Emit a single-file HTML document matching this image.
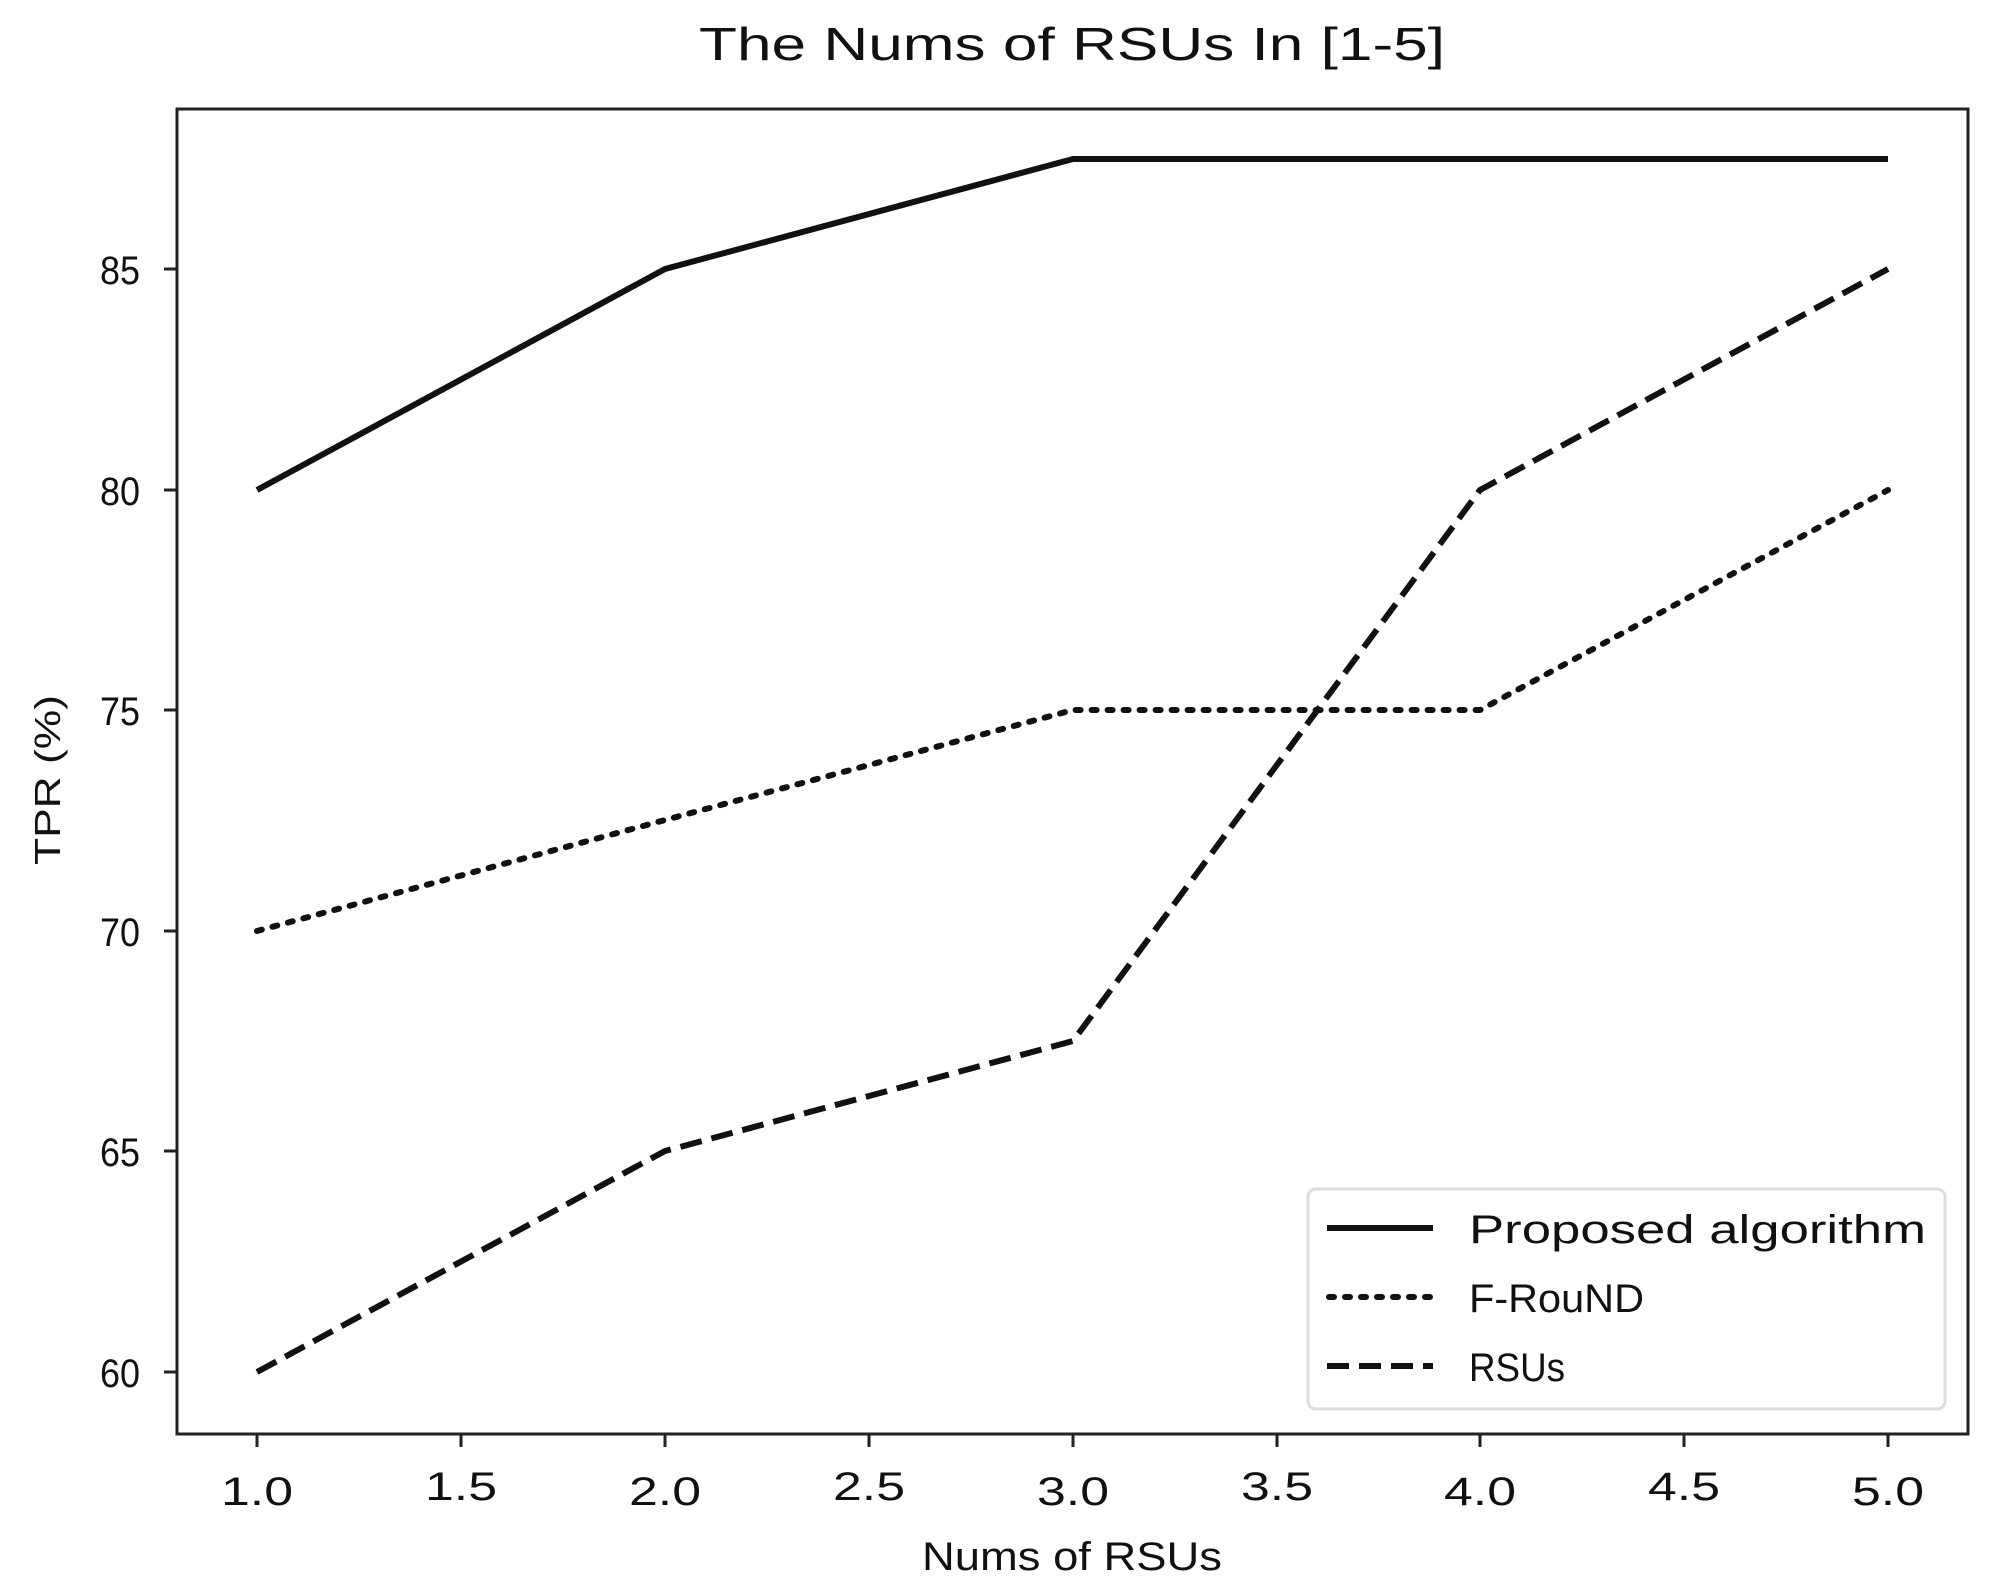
<!DOCTYPE html>
<html><head><meta charset="utf-8"><style>html,body{margin:0;padding:0;background:#fff}svg{display:block}</style></head>
<body>
<svg width="1997" height="1586" viewBox="0 0 1997 1586" xmlns="http://www.w3.org/2000/svg" font-family="'Liberation Sans','Noto Sans CJK SC',sans-serif" fill="#111">
<rect width="1997" height="1586" fill="#fff"/>
<text x="1072" y="60" font-size="46" text-anchor="middle" textLength="746" lengthAdjust="spacingAndGlyphs">The Nums of RSUs In [1-5]</text>
<rect x="177" y="109" width="1791" height="1325" fill="none" stroke="#222" stroke-width="3"/>
<g stroke="#222" stroke-width="3">
<line x1="257" y1="1434" x2="257" y2="1447"/><line x1="461" y1="1434" x2="461" y2="1447"/><line x1="665" y1="1434" x2="665" y2="1447"/><line x1="869" y1="1434" x2="869" y2="1447"/><line x1="1073" y1="1434" x2="1073" y2="1447"/><line x1="1277" y1="1434" x2="1277" y2="1447"/><line x1="1480" y1="1434" x2="1480" y2="1447"/><line x1="1684" y1="1434" x2="1684" y2="1447"/><line x1="1888" y1="1434" x2="1888" y2="1447"/>
<line x1="164" y1="1372" x2="177" y2="1372"/><line x1="164" y1="1151" x2="177" y2="1151"/><line x1="164" y1="931" x2="177" y2="931"/><line x1="164" y1="710" x2="177" y2="710"/><line x1="164" y1="490" x2="177" y2="490"/><line x1="164" y1="269" x2="177" y2="269"/>
</g>
<g font-size="40" text-anchor="middle">
<text x="257" y="1505" textLength="72" lengthAdjust="spacingAndGlyphs">1.0</text>
<text x="461" y="1500" textLength="72" lengthAdjust="spacingAndGlyphs">1.5</text>
<text x="665" y="1505" textLength="72" lengthAdjust="spacingAndGlyphs">2.0</text>
<text x="869" y="1500" textLength="72" lengthAdjust="spacingAndGlyphs">2.5</text>
<text x="1073" y="1505" textLength="72" lengthAdjust="spacingAndGlyphs">3.0</text>
<text x="1277" y="1500" textLength="72" lengthAdjust="spacingAndGlyphs">3.5</text>
<text x="1480" y="1505" textLength="72" lengthAdjust="spacingAndGlyphs">4.0</text>
<text x="1684" y="1500" textLength="72" lengthAdjust="spacingAndGlyphs">4.5</text>
<text x="1888" y="1505" textLength="72" lengthAdjust="spacingAndGlyphs">5.0</text>
</g>
<g font-size="40" text-anchor="end">
<text x="140" y="1387" textLength="40" lengthAdjust="spacingAndGlyphs">60</text>
<text x="140" y="1166" textLength="40" lengthAdjust="spacingAndGlyphs">65</text>
<text x="140" y="946" textLength="40" lengthAdjust="spacingAndGlyphs">70</text>
<text x="140" y="725" textLength="40" lengthAdjust="spacingAndGlyphs">75</text>
<text x="140" y="505" textLength="40" lengthAdjust="spacingAndGlyphs">80</text>
<text x="140" y="284" textLength="40" lengthAdjust="spacingAndGlyphs">85</text>
</g>
<text x="1072" y="1570" font-size="40" text-anchor="middle" textLength="300" lengthAdjust="spacingAndGlyphs">Nums of RSUs</text>
<text transform="translate(60,780) rotate(-90)" font-size="36" text-anchor="middle" textLength="170" lengthAdjust="spacingAndGlyphs">TPR (%)</text>
<g fill="none" stroke="#111" stroke-width="6" stroke-linejoin="round">
<polyline points="257,490 665,269 1073,159 1480,159 1888,159"/>
<polyline points="257,931 665,820 1073,710 1480,710 1888,490" stroke-dasharray="5,11" stroke-linecap="round"/>
<polyline points="257,1372 665,1151 1073,1041 1480,490 1888,269" stroke-dasharray="22,10"/>
</g>
<rect x="1308" y="1189" width="637" height="220" rx="8" fill="#fff" stroke="#ddd" stroke-width="3"/>
<g stroke="#111" stroke-width="6" fill="none">
<line x1="1327" y1="1228" x2="1433" y2="1228"/>
<line x1="1329" y1="1297" x2="1433" y2="1297" stroke-dasharray="5,11" stroke-linecap="round"/>
<line x1="1327" y1="1366" x2="1433" y2="1366" stroke-dasharray="22,10"/>
</g>
<g font-size="40">
<text x="1469" y="1243" textLength="457" lengthAdjust="spacingAndGlyphs">Proposed algorithm</text>
<text x="1469" y="1312" textLength="175" lengthAdjust="spacingAndGlyphs">F-RouND</text>
<text x="1469" y="1381" textLength="96" lengthAdjust="spacingAndGlyphs">RSUs</text>
</g>
</svg>
</body></html>
